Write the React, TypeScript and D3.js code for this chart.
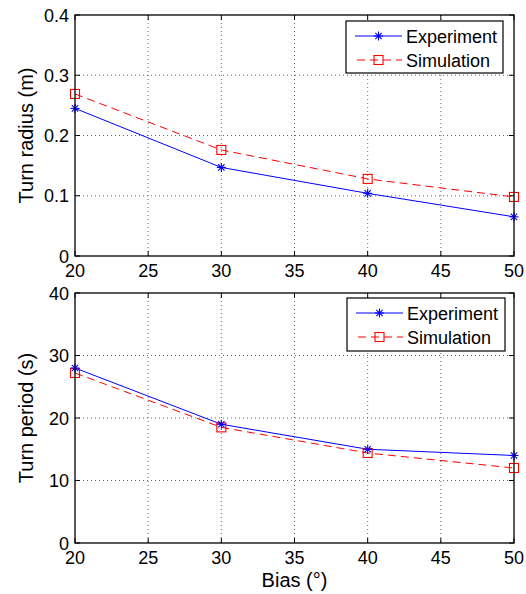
import React from "react";
import * as d3 from "d3";

const bias = [20, 30, 40, 50];
const radiusExperiment = [0.245, 0.147, 0.104, 0.065];
const radiusSimulation = [0.269, 0.176, 0.128, 0.098];
const periodExperiment = [28.0, 19.0, 15.0, 14.0];
const periodSimulation = [27.2, 18.5, 14.4, 12.0];
const xTicks = [20, 25, 30, 35, 40, 45, 50];
const radiusTicks = [0, 0.1, 0.2, 0.3, 0.4];
const periodTicks = [0, 10, 20, 30, 40];
const seriesNames = ["Experiment", "Simulation"];

const FONT = "'Liberation Sans', Arial, Helvetica, sans-serif";
const W = 526;
const H = 594;
const X0 = 75;
const X1 = 514;

function Star({ cx, cy, r, color }: { cx: number; cy: number; r: number; color: string }) {
  const d = r * 0.7071;
  return (
    <g stroke={color} strokeWidth={1.1}>
      <line x1={cx - r} y1={cy} x2={cx + r} y2={cy} />
      <line x1={cx} y1={cy - r} x2={cx} y2={cy + r} />
      <line x1={cx - d} y1={cy - d} x2={cx + d} y2={cy + d} />
      <line x1={cx - d} y1={cy + d} x2={cx + d} y2={cy - d} />
    </g>
  );
}

function Square({ cx, cy, s, color }: { cx: number; cy: number; s: number; color: string }) {
  return <rect x={cx - s / 2} y={cy - s / 2} width={s} height={s} fill="none" stroke={color} strokeWidth={1.1} />;
}

function Panel({
  top,
  bottom,
  yMax,
  yTicks,
  yFormat,
  exp,
  sim,
  yLabel,
  legend,
}: {
  top: number;
  bottom: number;
  yMax: number;
  yTicks: number[];
  yFormat: (v: number) => string;
  exp: number[];
  sim: number[];
  yLabel: string;
  legend: { x: number; y: number; w: number; h: number };
}) {
  const x = d3.scaleLinear().domain([20, 50]).range([X0, X1]);
  const y = d3.scaleLinear().domain([0, yMax]).range([bottom, top]);
  const line = d3
    .line<number>()
    .x((_, i) => x(bias[i]))
    .y((v) => y(v));
  const tickLen = 5;
  const lgRow1 = legend.y + 15;
  const lgRow2 = legend.y + 39;
  const lgX0 = legend.x + 9;
  const lgX1 = legend.x + 56;
  const lgMid = (lgX0 + lgX1) / 2;
  return (
    <g>
      {xTicks.slice(1, -1).map((t) => (
        <line key={"gx" + t} x1={x(t)} x2={x(t)} y1={top} y2={bottom} stroke="#444" strokeWidth={0.8} strokeDasharray="1,3" />
      ))}
      {yTicks.slice(1, -1).map((t) => (
        <line key={"gy" + t} x1={X0} x2={X1} y1={y(t)} y2={y(t)} stroke="#444" strokeWidth={0.8} strokeDasharray="1,3" />
      ))}
      {xTicks.map((t) => (
        <g key={"tx" + t}>
          <line x1={x(t)} x2={x(t)} y1={bottom} y2={bottom - tickLen} stroke="#000" />
          <line x1={x(t)} x2={x(t)} y1={top} y2={top + tickLen} stroke="#000" />
          <text x={x(t)} y={bottom + 21} textAnchor="middle" fontSize={18} fontFamily={FONT}>
            {t}
          </text>
        </g>
      ))}
      {yTicks.map((t) => (
        <g key={"ty" + t}>
          <line x1={X0} x2={X0 + tickLen} y1={y(t)} y2={y(t)} stroke="#000" />
          <line x1={X1} x2={X1 - tickLen} y1={y(t)} y2={y(t)} stroke="#000" />
          <text x={X0 - 6} y={y(t) + 6.5} textAnchor="end" fontSize={18} fontFamily={FONT}>
            {yFormat(t)}
          </text>
        </g>
      ))}
      <path d={line(sim) || ""} fill="none" stroke="#ff0000" strokeWidth={1} strokeDasharray="8,5" />
      <path d={line(exp) || ""} fill="none" stroke="#0000ff" strokeWidth={1} />
      {sim.map((v, i) => (
        <Square key={"s" + i} cx={x(bias[i])} cy={y(v)} s={9} color="#ff0000" />
      ))}
      {exp.map((v, i) => (
        <Star key={"e" + i} cx={x(bias[i])} cy={y(v)} r={4.5} color="#0000ff" />
      ))}
      <rect x={X0} y={top} width={X1 - X0} height={bottom - top} fill="none" stroke="#000" strokeWidth={1.3} />
      <text
        transform={`translate(33,${(top + bottom) / 2}) rotate(-90)`}
        textAnchor="middle"
        fontSize={20}
        fontFamily={FONT}
      >
        {yLabel}
      </text>
      <rect x={legend.x} y={legend.y} width={legend.w} height={legend.h} fill="#fff" stroke="#000" strokeWidth={1.2} />
      <line x1={lgX0} x2={lgX1} y1={lgRow1} y2={lgRow1} stroke="#0000ff" strokeWidth={1} />
      <Star cx={lgMid} cy={lgRow1} r={4.5} color="#0000ff" />
      <line x1={lgX0} x2={lgX1} y1={lgRow2} y2={lgRow2} stroke="#ff0000" strokeWidth={1} strokeDasharray="8,5" strokeDashoffset={-2} />
      <Square cx={lgMid} cy={lgRow2} s={9} color="#ff0000" />
      <text x={lgX1 + 4} y={lgRow1 + 6.5} fontSize={18} fontFamily={FONT}>
        {seriesNames[0]}
      </text>
      <text x={lgX1 + 4} y={lgRow2 + 6.5} fontSize={18} fontFamily={FONT}>
        {seriesNames[1]}
      </text>
    </g>
  );
}

export default function App() {
  return (
    <svg width={W} height={H} style={{ position: "absolute", left: 0, top: 0, background: "#fff" }}>
      <rect x={0} y={0} width={W} height={H} fill="#fff" />
      <Panel
        top={15}
        bottom={256}
        yMax={0.4}
        yTicks={radiusTicks}
        yFormat={(v) => (v === 0 ? "0" : d3.format(".1f")(v))}
        exp={radiusExperiment}
        sim={radiusSimulation}
        yLabel="Turn radius (m)"
        legend={{ x: 346, y: 21, w: 157, h: 52 }}
      />
      <Panel
        top={293}
        bottom={543}
        yMax={40}
        yTicks={periodTicks}
        yFormat={(v) => String(v)}
        exp={periodExperiment}
        sim={periodSimulation}
        yLabel="Turn period (s)"
        legend={{ x: 347, y: 298, w: 158, h: 53 }}
      />
      <text x={(X0 + X1) / 2} y={587} textAnchor="middle" fontSize={20} fontFamily={FONT}>
        Bias (°)
      </text>
    </svg>
  );
}
